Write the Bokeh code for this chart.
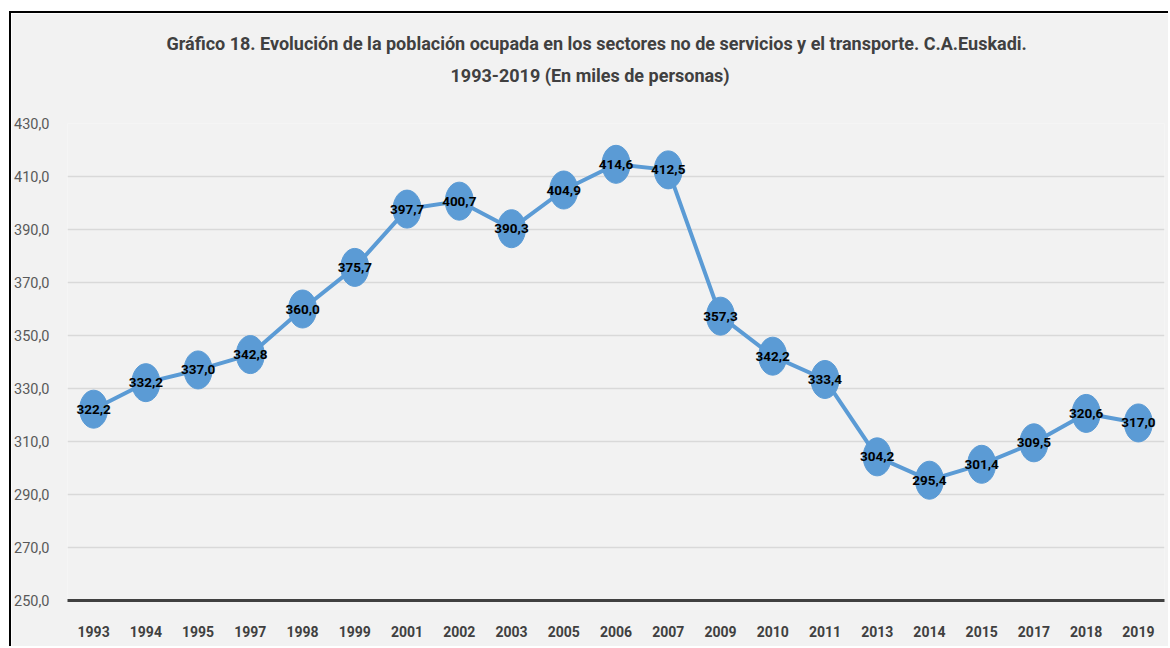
from bokeh.plotting import figure
from bokeh.models import ColumnDataSource, FactorRange, Title, CustomJSTickFormatter, FixedTicker
from bokeh.core.properties import value
from bokeh.embed import file_html
from bokeh.resources import INLINE

years = ["1993", "1994", "1995", "1997", "1998", "1999", "2001", "2002", "2003", "2005", "2006",
         "2007", "2009", "2010", "2011", "2013", "2014", "2015", "2017", "2018", "2019"]
values = [322.2, 332.2, 337.0, 342.8, 360.0, 375.7, 397.7, 400.7, 390.3, 404.9, 414.6,
          412.5, 357.3, 342.2, 333.4, 304.2, 295.4, 301.4, 309.5, 320.6, 317.0]
y_ticks = [250, 270, 290, 310, 330, 350, 370, 390, 410, 430]
title_1 = "Gráfico 18. Evolución de la población ocupada en los sectores no de servicios y el transporte. C.A.Euskadi."
title_2 = "1993-2019 (En miles de personas)"

FONT = "Roboto"
BLUE = "#5b9bd5"
BG = "#f2f2f2"

labels = [f"{v:.1f}".replace(".", ",") for v in values]
src = ColumnDataSource(dict(x=years, y=values, label=labels))

p = figure(width=1159, height=635, x_range=FactorRange(*years, range_padding=0),
           y_range=(250, 430), output_backend="svg", toolbar_location=None,
           min_border_left=53, min_border_right=6, min_border_top=110, min_border_bottom=48)
p.styles = {"margin-top": "11px", "margin-left": "9px",
            "border-top": "2px solid black", "border-left": "2px solid black"}

p.background_fill_color = BG
p.border_fill_color = BG
p.outline_line_color = None

spacer = Title(text=" ", align="center", text_font=FONT, text_font_size="18px",
               text_color=BG, standoff=11)
t2 = Title(text=title_2, align="left", text_font=FONT, offset=383,
           text_font_size="18px", text_font_style="bold", text_color="#404040", standoff=8)
t1 = Title(text=title_1, align="left", text_font=FONT, offset=99,
           text_font_size="18px", text_font_style="bold", text_color="#404040", standoff=9)
p.add_layout(spacer, "above")
p.add_layout(t2, "above")
p.add_layout(t1, "above")

p.line("x", "y", source=src, line_color=BLUE, line_width=4)
p.ellipse("x", "y", width=28, height=38, width_units="screen", height_units="screen",
          source=src, fill_color=BLUE, line_color=BLUE)
p.text("x", "y", text="label", source=src, text_align="center", text_baseline="middle",
       text_font=value(FONT), text_font_size="13.5px", text_font_style="bold", text_color="black")

p.yaxis.ticker = FixedTicker(ticks=y_ticks)
p.yaxis.formatter = CustomJSTickFormatter(code="return tick.toFixed(1).replace('.', ',');")
p.yaxis.axis_line_color = None
p.yaxis.major_tick_line_color = None
p.yaxis.minor_tick_line_color = None
p.yaxis.major_label_text_font = FONT
p.yaxis.major_label_text_font_size = "14.5px"
p.yaxis.major_label_text_color = "#595959"
p.yaxis.major_label_standoff = 12

p.xaxis.axis_line_color = "#404040"
p.xaxis.axis_line_width = 3
p.xaxis.major_tick_line_color = None
p.xaxis.minor_tick_line_color = None
p.xaxis.major_label_text_font = FONT
p.xaxis.major_label_text_font_size = "14px"
p.xaxis.major_label_text_font_style = "bold"
p.xaxis.major_label_text_color = "#404040"
p.xaxis.major_label_standoff = 19

p.xgrid.grid_line_color = None
p.ygrid.grid_line_color = "#d9d9d9"
p.ygrid.grid_line_width = 1.5

open("out.html", "w").write(file_html(p, INLINE))
